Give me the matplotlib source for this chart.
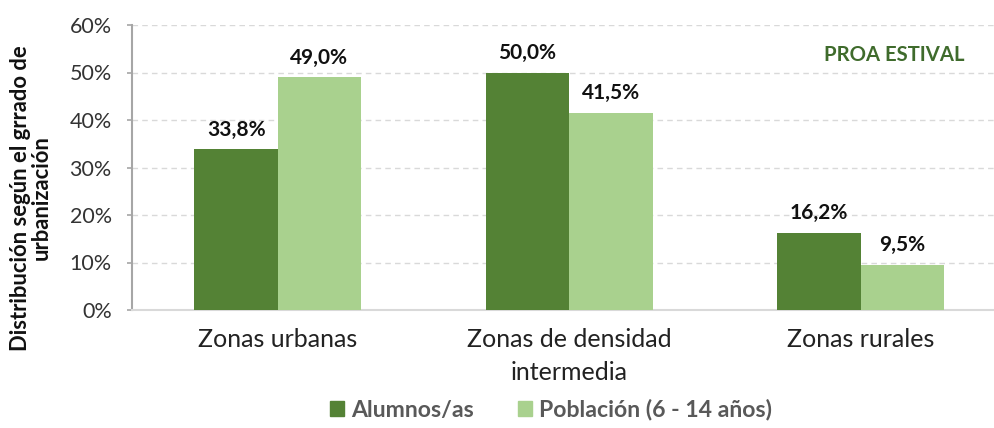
import matplotlib
matplotlib.use("Agg")
import matplotlib.pyplot as plt
import numpy as np
from matplotlib.patches import Patch

plt.rcParams['font.family'] = ['Lato', 'DejaVu Sans']

categories = ["Zonas urbanas", "Zonas de densidad\nintermedia", "Zonas rurales"]
series_names = ["Alumnos/as", "Población (6 - 14 años)"]
alumnos = [33.8, 50.0, 16.2]
poblacion = [49.0, 41.5, 9.5]
yticks = [0, 10, 20, 30, 40, 50, 60]

c_dark = "#548235"
c_light = "#A9D18E"

W, H = 994, 428
fig = plt.figure(figsize=(W/100, H/100), dpi=100)
left, right, top, bottom = 132, 994, 25, 310
ax = fig.add_axes([left/W, 1-bottom/H, (right-left)/W, (bottom-top)/H])

x = np.arange(len(categories))
bw = 0.286
b1 = ax.bar(x - bw/2, alumnos, bw, color=c_dark, zorder=3)
b2 = ax.bar(x + bw/2, poblacion, bw, color=c_light, zorder=3)

for bars, vals in ((b1, alumnos), (b2, poblacion)):
    for b, v in zip(bars, vals):
        ax.annotate(f"{v:.1f}%".replace(".", ","), (b.get_x()+b.get_width()/2, v),
                    xytext=(0, 7), textcoords="offset points", ha="center", va="bottom",
                    fontsize=15, fontweight="bold", color="#111111")

ax.set_ylim(0, 60)
ax.set_xlim(-0.5, -0.5 + (right-left)/291.5)
ax.set_yticks(yticks)
ax.set_yticklabels([f"{t}%" for t in yticks], fontsize=15.5, color="#333333")
ax.set_xticks(x)
ax.set_xticklabels(categories, fontsize=18, color="#222222", linespacing=1.5)
ax.tick_params(axis="x", length=0, pad=13)
ax.tick_params(axis="y", length=3.6, width=1.2, color="#A6A6A6", pad=11)
ax.yaxis.grid(True, linestyle=(0, (4, 3)), color="#D9D9D9", linewidth=1, zorder=0)
for s in ("top", "right"):
    ax.spines[s].set_visible(False)
ax.spines["left"].set_color("#A6A6A6")
ax.spines["left"].set_linewidth(1.5)
ax.spines["bottom"].set_color("#D9D9D9")
ax.spines["bottom"].set_linewidth(1.5)

fig.text(31/W, 1-198/H, "Distribución según el grrado de\nurbanización", rotation=90,
         ha="center", va="center", fontsize=15.8, fontweight="bold", color="#111111",
         linespacing=1.0)

fig.text(894/W, 1-55/H, "PROA ESTIVAL", ha="center", va="center", fontsize=14.6,
         fontweight="bold", color="#3F6B2C")

handles = [Patch(color=c_dark), Patch(color=c_light)]
leg = fig.legend(handles, series_names, loc="center", bbox_to_anchor=(551/W, 1-410/H),
                 ncol=2, frameon=False, handlelength=0.6, handleheight=0.6,
                 handletextpad=0.3, columnspacing=1.9,
                 prop={"size": 16.6, "weight": "bold"})
for t in leg.get_texts():
    t.set_color("#595959")

fig.savefig("out.png", dpi=100)
